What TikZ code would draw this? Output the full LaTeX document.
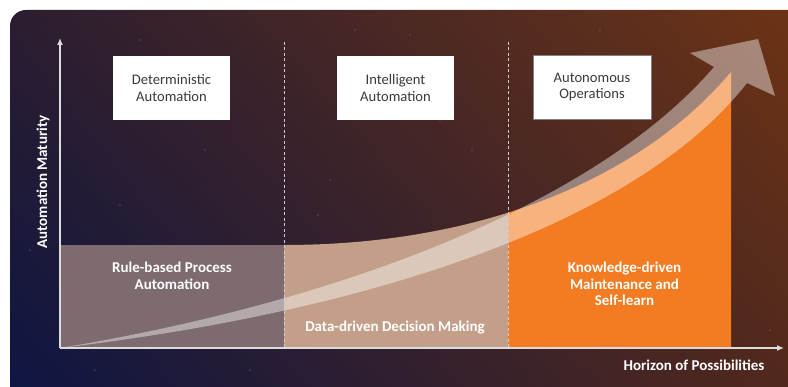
\documentclass[tikz,border=0pt]{standalone}
\usepackage{fontspec}
\setmainfont{Carlito}
\usetikzlibrary{arrows.meta,shadings}

\definecolor{bgUL}{HTML}{2B1D30}
\definecolor{bgUR}{HTML}{6E3415}
\definecolor{bgLL}{HTML}{0C1543}
\definecolor{bgLR}{HTML}{52281C}
\definecolor{rulefill}{HTML}{7D6B6F}
\definecolor{tanfill}{HTML}{C39F8A}
\definecolor{orangefill}{HTML}{F37B22}
\definecolor{boxtext}{HTML}{3A3A3A}
\definecolor{axiscol}{HTML}{DCDCDC}

\tikzset{
  axisline/.style={draw=axiscol, line width=1.4pt, -{Latex[length=7pt,width=6pt]}},
  phaseline/.style={draw=axiscol!85!gray, line width=0.8pt, dash pattern=on 3pt off 2.5pt},
  phasebox/.style={fill=white, minimum width=117pt, minimum height=64pt, inner sep=0pt,
    text=boxtext, align=center, font=\fontsize{14.6}{16.5}\selectfont},
  stagelabel/.style={text=white, align=center, font=\bfseries\fontsize{15}{16.5}\selectfont},
  star/.style={fill=white, opacity=0.18},
}

\begin{document}
\begin{tikzpicture}[x=1pt, y=-1pt]
\useasboundingbox (0,0) rectangle (788,387);
\fill[white] (0,0) rectangle (788,387);

% night-sky panel
\begin{scope}
  \clip (0,0) rectangle (788,387);
  \shade[upper left=bgUL, upper right=bgUR, lower left=bgLL, lower right=bgLR,
         rounded corners=16pt] (10,10) rectangle (810,405);
  \foreach \sx/\sy in {140/40, 205/150, 318/215, 410/35, 472/150, 560/205,
      95/370, 250/370, 330/180, 690/250, 770/330, 30/250, 440/120, 600/30,
      120/205, 355/30}
    \fill[star] (\sx,\sy) circle (0.9pt);
\end{scope}

% maturity areas
\fill[rulefill] (60,245) rectangle (284,348);
\begin{scope}
  \clip (284,0) rectangle (508,348);
  \fill[tanfill] (284,348) -- (284,245) .. controls (480,245) and (640,180) .. (731,72)
    -- (731,348) -- cycle;
\end{scope}
\begin{scope}
  \clip (508,0) rectangle (731,348);
  \fill[orangefill] (284,348) -- (284,245) .. controls (480,245) and (640,180) .. (731,72)
    -- (731,348) -- cycle;
\end{scope}

% growth arrow
\fill[white, opacity=0.42] (60,348) .. controls (380,310) and (640,220) .. (747,83)
  -- (775,96) -- (758,39) -- (690,53) -- (714,67)
  .. controls (600,200) and (350,300) .. (60,348) -- cycle;

% axes
\coordinate (origin) at (60,348);
\coordinate (ytop) at (60,38);
\coordinate (xend) at (784,348);
\draw[axisline] (origin) -- (ytop);
\draw[axisline] (origin) -- (xend);

% phase separators
\coordinate (sepAtop) at (284,42);
\coordinate (sepAbot) at (284,348);
\coordinate (sepBtop) at (508,42);
\coordinate (sepBbot) at (508,348);
\draw[phaseline] (sepAtop) -- (sepAbot);
\draw[phaseline] (sepBtop) -- (sepBbot);

% phase headings
\node[phasebox] (det) at (171.5,88) {Deterministic\\Automation};
\node[phasebox] (intel) at (395.5,88) {Intelligent\\Automation};
\node[phasebox, draw=gray, line width=0.6pt, minimum width=118pt] (auto) at (592,87)
  {Autonomous\\Operations};

% stage labels
\node[stagelabel] (rule) at (172,276) {Rule-based Process\\Automation};
\node[stagelabel] (data) at (395,328) {Data-driven Decision Making};
\node[stagelabel] (know) at (624.5,284) {Knowledge-driven\\Maintenance and\\Self-learn};

% axis titles
\node[stagelabel, rotate=90] (ylab) at (43,182) {Automation Maturity};
\node[stagelabel] (xlab) at (694,365) {Horizon of Possibilities};
\end{tikzpicture}
\end{document}
